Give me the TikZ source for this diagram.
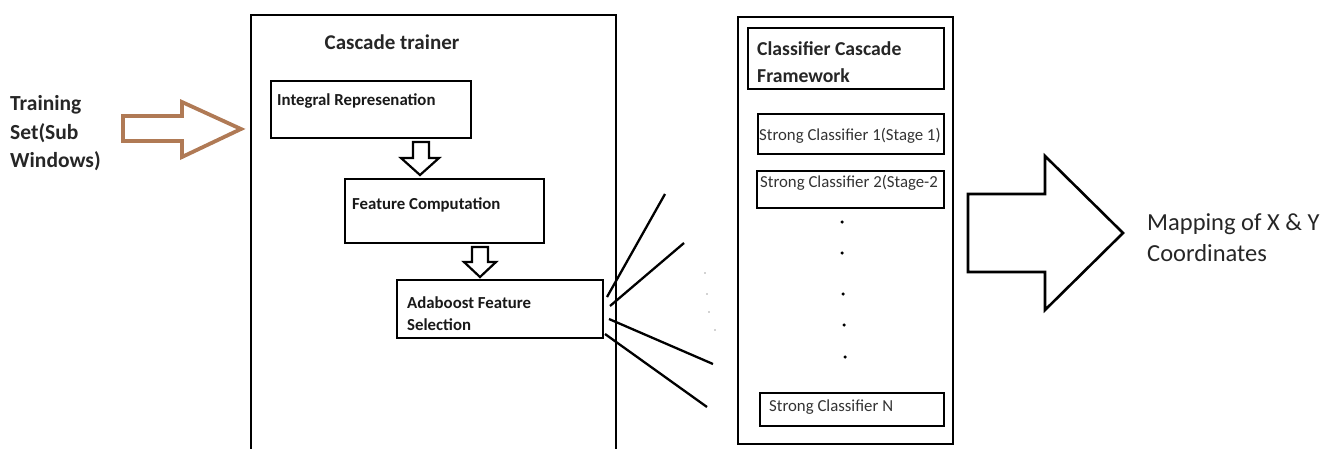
\documentclass[tikz,border=0pt]{standalone}
\usepackage{fontspec}
\setmainfont{Carlito}
\begin{document}
\begin{tikzpicture}[x=1pt,y=-1pt,
  box/.style={draw=black,line width=2.2pt,inner sep=0pt,anchor=north west},
  lbl/.style={inner sep=0pt,anchor=west,text=black},
  blabel/.style={lbl,font=\bfseries\fontsize{16.8}{19}\selectfont,text=black!90},
  slabel/.style={lbl,font=\fontsize{16.8}{19}\selectfont,text=black!80},
  fatarrow/.style={draw=black,line width=2.2pt,fill=white,line join=miter},
  ray/.style={draw=black,line width=2.3pt},
  fdot/.style={circle,fill=black!35,inner sep=0pt,minimum size=1.8pt},
  cdot/.style={circle,fill=black,inner sep=0pt,minimum size=3.5pt}]
\useasboundingbox (0,0) rectangle (1335,448);
% Training set text
\node[lbl,align=left,font=\bfseries\fontsize{21.5}{28.5}\selectfont,text=black!85] (train) at (10,133.5) {Training\\Set(Sub\\Windows)};
% brown arrow
\draw[draw={rgb,255:red,176;green,122;blue,85},line width=3.8pt,line join=miter]
  (123,116) -- (182,116) -- (182,102) -- (241,129) -- (182,157) -- (182,141) -- (123,141) -- cycle;
% Cascade trainer box (extends beyond bottom)
\draw[line width=2.4pt] (251,460) -- (251,15) -- (616,15) -- (616,460);
\coordinate (ctbox) at (251,15);
\node[inner sep=0pt,font=\bfseries\fontsize{21}{23}\selectfont,text=black!85] (cttitle) at (392,42) {Cascade trainer};
% Integral representation
\node[box,minimum width=200pt,minimum height=57pt] (ir) at (270,80) {};
\node[blabel] (irt) at (277,101) {Integral Represenation};
% arrow 1
\draw[fatarrow] (413,142) -- (429,142) -- (429,158) -- (439,158) -- (420,175) -- (401,158) -- (413,158) -- cycle;
% Feature Computation
\node[box,minimum width=199pt,minimum height=64pt] (fc) at (344,178) {};
\node[blabel] (fct) at (352,205) {Feature Computation};
% arrow 2
\draw[fatarrow] (472,247) -- (488,247) -- (488,262) -- (496,262) -- (480,277) -- (464,262) -- (472,262) -- cycle;
% Adaboost
\node[box,minimum width=206pt,minimum height=58pt] (ada) at (396,279) {};
\node[blabel,align=left,font=\bfseries\fontsize{16.8}{22}\selectfont] (adat) at (407,314) {Adaboost Feature\\Selection};
% rays
\coordinate (r1s) at (607,297); \coordinate (r1e) at (665,194);
\coordinate (r2s) at (610,306); \coordinate (r2e) at (684,243);
\coordinate (r3s) at (609,319); \coordinate (r3e) at (713,364);
\coordinate (r4s) at (605,334); \coordinate (r4e) at (707,407);
\draw[ray] (r1s) -- (r1e);
\draw[ray] (r2s) -- (r2e);
\draw[ray] (r3s) -- (r3e);
\draw[ray] (r4s) -- (r4e);
\node[fdot] (f1) at (705,273) {};
\node[fdot] (f2) at (707,294) {};
\node[fdot] (f3) at (709,312) {};
\node[fdot] (f4) at (715,330) {};
% Right framework box
\node[box,minimum width=215pt,minimum height=427pt] (fw) at (737,16) {};
\node[box,minimum width=196pt,minimum height=61pt] (ccf) at (747,27) {};
\node[lbl,align=left,font=\bfseries\fontsize{19.7}{27}\selectfont,text=black!85] (ccft) at (757,62.5) {Classifier Cascade\\Framework};
\node[box,minimum width=186pt,minimum height=40pt] (sc1) at (757,113) {};
\node[slabel] (sc1t) at (759,136) {Strong Classifier 1(Stage 1)};
\node[box,minimum width=187pt,minimum height=37pt] (sc2) at (756,170) {};
\node[slabel] (sc2t) at (760,183) {Strong Classifier 2(Stage-2};
\node[cdot] (d1) at (842,222) {};
\node[cdot] (d2) at (842,253) {};
\node[cdot] (d3) at (843,294) {};
\node[cdot] (d4) at (844,325) {};
\node[cdot] (d5) at (845,357) {};
\node[box,minimum width=184pt,minimum height=33pt] (scn) at (759,392) {};
\node[slabel] (scnt) at (769,407) {Strong Classifier N};
% big output arrow
\draw[fatarrow,line width=2.6pt] (968,194) -- (1045,194) -- (1045,156) -- (1123,233) -- (1045,310) -- (1045,272) -- (968,272) -- cycle;
\node[lbl,align=left,font=\fontsize{24.5}{31}\selectfont,text=black!85] (map) at (1147,237.5) {Mapping of X \& Y\\Coordinates};
\end{tikzpicture}
\end{document}
